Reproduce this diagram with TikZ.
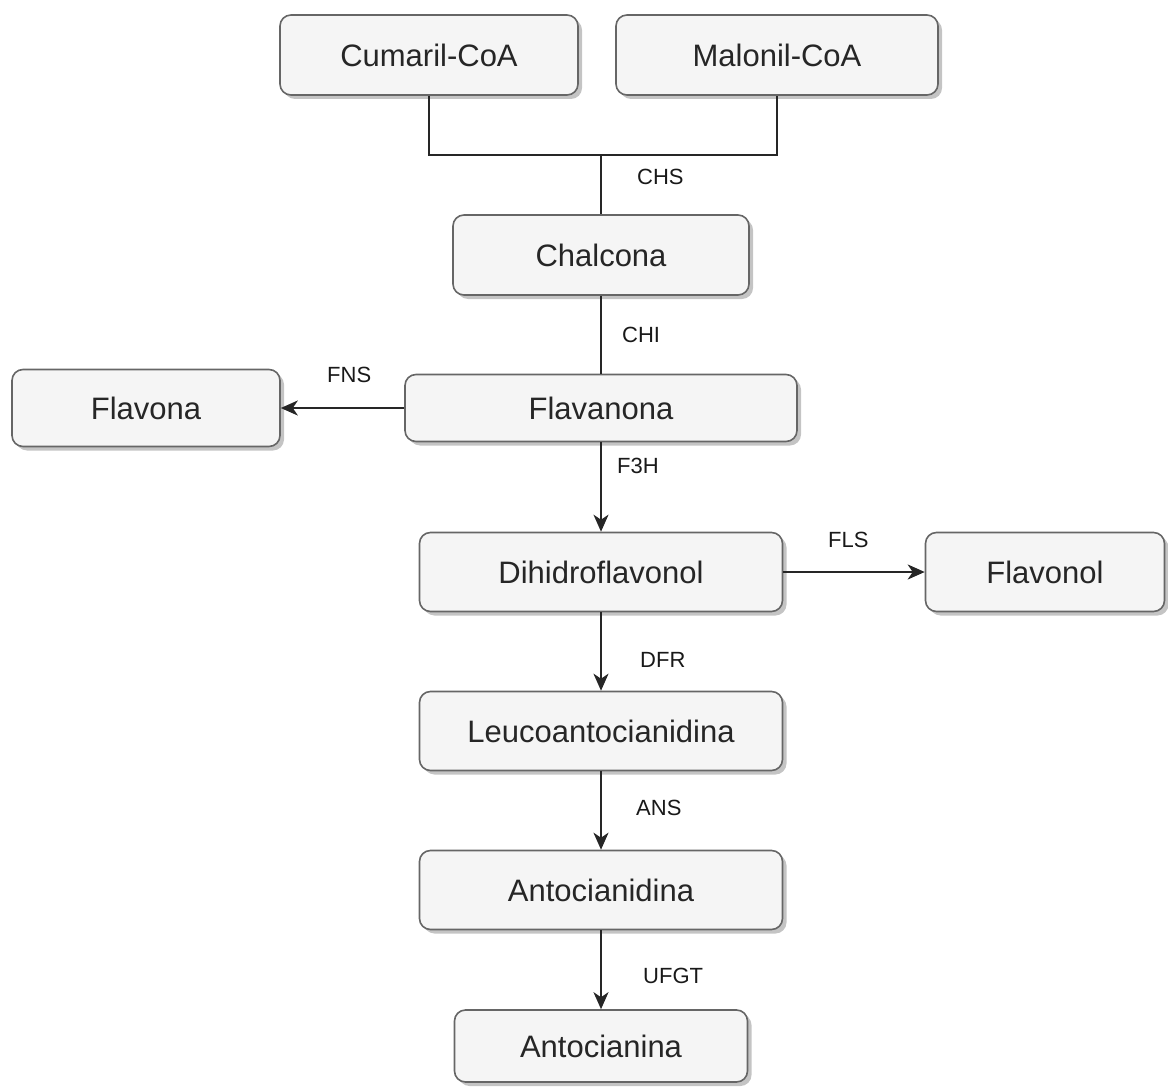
\documentclass[tikz,border=0pt]{standalone}
\usepackage{fontspec}
\setmainfont{Liberation Sans}
\usetikzlibrary{arrows.meta,shadows}

\definecolor{caixa}{HTML}{F5F5F5}
\definecolor{borda}{HTML}{666666}
\definecolor{sombra}{HTML}{C4C4C4}

\tikzset{
  composto/.style = {draw = borda, fill = caixa, rounded corners = 11pt,
    line width = 1.6pt, inner sep = 0pt, text = black!85,
    font = \fontsize{31}{36}\selectfont,
    drop shadow = {shadow xshift = 4pt, shadow yshift = -4pt,
      fill = sombra, opacity = 1}},
  enzima/.style = {anchor = west, inner sep = 0pt, text = black!90,
    font = \fontsize{22}{26}\selectfont},
  liga/.style = {line width = 2pt, draw = black!85},
  seta/.style = {liga, -{Stealth[length = 17pt, width = 15pt, inset = 5pt]}}
}

\begin{document}
\begin{tikzpicture}
        [x = 1pt, y = -1pt]

        \useasboundingbox (0,0) rectangle (1168,1089);

        % compostos
        \foreach \nome/\x/\y/\w/\h/\texto in
          {cumaril/429/55/298/80/Cumaril-CoA,
           malonil/777/55/322/80/Malonil-CoA,
           chalcona/601/255/296/80/Chalcona,
           flavanona/601/408/392/67/Flavanona,
           flavona/146/408/268/77/Flavona,
           dihidro/601/572/363/79/Dihidroflavonol,
           flavonol/1045/572/239/79/Flavonol,
           leuco/601/731/363/79/Leucoantocianidina,
           antocianidina/601/890/363/79/Antocianidina,
           antocianina/601/1046/293/72/Antocianina}
          \node[composto, minimum width = \w pt, minimum height = \h pt]
            (\nome) at (\x,\y) {\texto};

        % enzimas
        \foreach \nome/\x/\y/\texto in
          {chs/637/177/CHS, chi/622/335/CHI, fns/327/375/FNS,
           f3h/617/466/F3H, fls/828/540/FLS, dfr/640/660/DFR,
           ans/636/808/ANS, ufgt/643/976/UFGT}
          \node[enzima] (\nome) at (\x,\y) {\texto};

        \coordinate (juncao) at (601,155);
        \draw[liga] (cumaril.south) |- (juncao) -| (malonil.south);
        \draw[liga] (juncao) -- (chalcona.north);
        \draw[liga] (chalcona) -- (flavanona);

        \draw[seta] (flavanona) -- (flavona);
        \draw[seta] (dihidro) -- (flavonol);
        \foreach \a/\b in {flavanona/dihidro, dihidro/leuco,
                           leuco/antocianidina, antocianidina/antocianina}
          \draw[seta] (\a.south) -- (\b.north);
      \end{tikzpicture}
\end{document}
